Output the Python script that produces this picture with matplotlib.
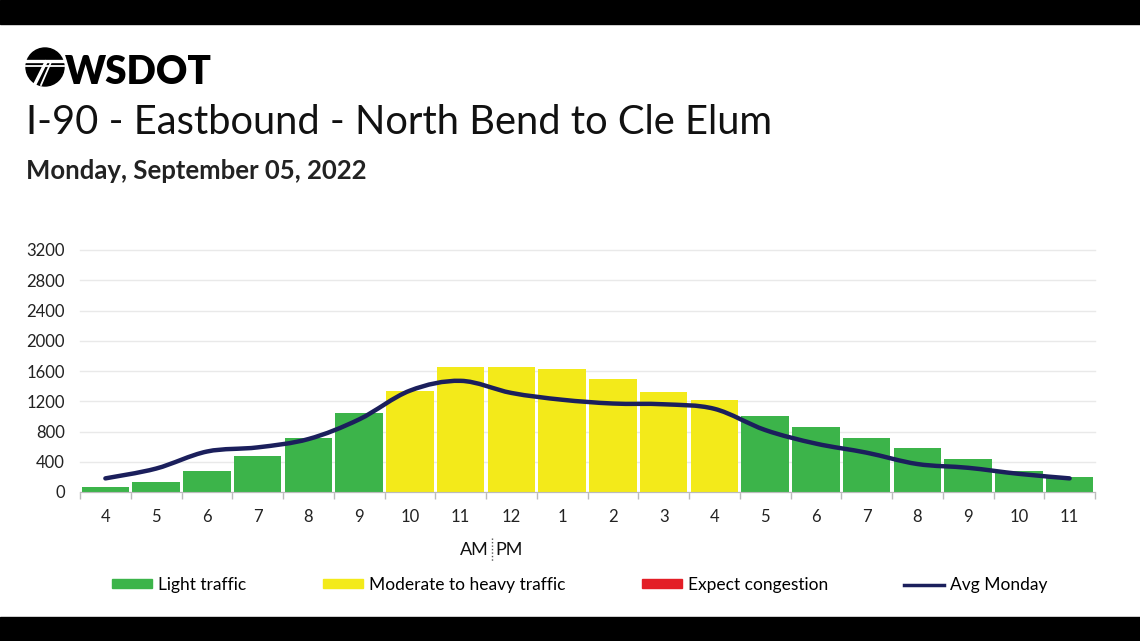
import matplotlib
matplotlib.use("Agg")
import matplotlib.pyplot as plt
import numpy as np
from matplotlib.path import Path
from matplotlib.patches import PathPatch, Ellipse, Rectangle, Patch
from matplotlib.lines import Line2D

# ---- data ----
hours = ["4", "5", "6", "7", "8", "9", "10", "11", "12", "1", "2", "3", "4",
         "5", "6", "7", "8", "9", "10", "11"]
volume = [60, 130, 280, 480, 720, 1040, 1330, 1650, 1650, 1620, 1500, 1320, 1210,
          1010, 860, 720, 580, 430, 280, 200]
level = ["light", "light", "light", "light", "light", "light", "moderate", "moderate",
         "moderate", "moderate", "moderate", "moderate", "moderate",
         "light", "light", "light", "light", "light", "light", "light"]
avg_monday = [180, 310, 535, 590, 700, 960, 1340, 1470, 1310, 1220, 1170, 1160, 1100,
              820, 640, 520, 370, 320, 240, 180]
yticks = [0, 400, 800, 1200, 1600, 2000, 2400, 2800, 3200]

title = "I-90 - Eastbound - North Bend to Cle Elum"
subtitle = "Monday, September 05, 2022"

colors = {"light": "#3cb44a", "moderate": "#f3ea1a", "congestion": "#e31e26"}
navy = "#1b1f5c"

plt.rcParams['font.family'] = ['Lato', 'DejaVu Sans']

W, H = 1140, 641
fig = plt.figure(figsize=(W / 100, H / 100), dpi=100)
fig.patch.set_facecolor("white")

# top / bottom black bands
fig.add_artist(Rectangle((0, 1 - 24 / H), 1, 24 / H, transform=fig.transFigure,
                         color="black", zorder=0))
fig.add_artist(Rectangle((0, 0), 1, 24 / H, transform=fig.transFigure,
                         color="black", zorder=0))

# axes
left, right = 80 / W, 1095 / W
bottom = (H - 492) / H
top = (H - 250) / H
ax = fig.add_axes([left, bottom, right - left, top - bottom])
x = np.arange(len(hours))
ax.bar(x, volume, width=0.94, color=[colors[l] for l in level], zorder=2)

# smooth average line (Catmull-Rom as Bezier path)
pts = np.column_stack([x, avg_monday]).astype(float)
verts = [pts[0]]
codes = [Path.MOVETO]
n = len(pts)
for i in range(n - 1):
    p0 = pts[i - 1] if i > 0 else pts[i]
    p1 = pts[i]
    p2 = pts[i + 1]
    p3 = pts[i + 2] if i + 2 < n else pts[i + 1]
    c1 = p1 + (p2 - p0) / 6.0
    c2 = p2 - (p3 - p1) / 6.0
    verts += [c1, c2, p2]
    codes += [Path.CURVE4] * 3
ax.add_patch(PathPatch(Path(verts, codes), fill=False, edgecolor=navy, lw=3.2,
                       capstyle="round", zorder=3))

ax.set_xlim(-0.5, len(hours) - 0.5)
ax.set_ylim(0, 3200)
ax.set_yticks(yticks)
ax.set_yticklabels([str(v) for v in yticks], fontsize=12, color="#222222")
ax.set_xticks(x)
ax.set_xticklabels(hours, fontsize=12, color="#222222")
ax.set_xticks(np.arange(len(hours) + 1) - 0.5, minor=True)
ax.tick_params(axis="x", which="major", length=0, pad=12)
ax.tick_params(axis="x", which="minor", length=5, color="#bbbbbb", width=1)
ax.tick_params(axis="y", length=0, pad=11)
for s in ["top", "right", "left"]:
    ax.spines[s].set_visible(False)
ax.spines["bottom"].set_color("#bbbbbb")
ax.grid(axis="y", color="#e9e9e9", lw=1, zorder=0)
for gl in ax.get_ygridlines():
    gl.set_clip_on(False)
ax.set_axisbelow(True)

# titles
fig.text(26 / W, 1 - 122 / H, title, fontsize=28.7, color="#111111", va="center", ha="left")
fig.text(26 / W, 1 - 171 / H, subtitle, fontsize=18.5, fontweight="bold", color="#222222",
         va="center", ha="left")

# logo
cx, cy, r = 45, 67, 19
fig.add_artist(Ellipse((cx / W, 1 - cy / H), 2 * r / W, 2 * r / H, transform=fig.transFigure,
                       color="black", zorder=5))
def wline(x0, y0, x1, y1, lw):
    fig.add_artist(Line2D([x0 / W, x1 / W], [1 - y0 / H, 1 - y1 / H],
                          transform=fig.transFigure, color="white", lw=lw, zorder=6))
wline(cx - 19, cy - 6, cx + 19, cy - 6, 2.4)
wline(cx - 19, cy - 1.5, cx + 19, cy - 1.5, 1.3)
wline(cx + 1, cy - 5, cx - 10, cy + 17, 2.4)
wline(cx + 6, cy - 5, cx - 4, cy + 18, 1.3)
fig.text(65 / W, 1 - 73 / H, "WSDOT", fontsize=27.8, fontweight="heavy", color="black",
         va="center", ha="left")

# AM | PM
fig.text(489 / W, 1 - 550 / H, "AM", fontsize=13, ha="right", va="center", color="#111111")
fig.text(495 / W, 1 - 550 / H, "PM", fontsize=13, ha="left", va="center", color="#111111")
fig.add_artist(Line2D([492 / W, 492 / W], [1 - 538 / H, 1 - 562 / H], transform=fig.transFigure,
                      color="#555555", lw=1, ls=(0, (1, 1.5))))

# legend
handles = [Patch(color=colors["light"]), Patch(color=colors["moderate"]),
           Patch(color=colors["congestion"]), Line2D([], [], color=navy, lw=2.5)]
labels = ["Light traffic", "Moderate to heavy traffic", "Expect congestion", "Avg Monday"]
fig.legend(handles, labels, loc="center", bbox_to_anchor=(580 / W, 1 - 585 / H), ncol=4,
           frameon=False, fontsize=12.5, handlelength=2.3, handleheight=0.4,
           columnspacing=4.4, handletextpad=0.35)

fig.savefig("out.png", dpi=100, facecolor="white")
